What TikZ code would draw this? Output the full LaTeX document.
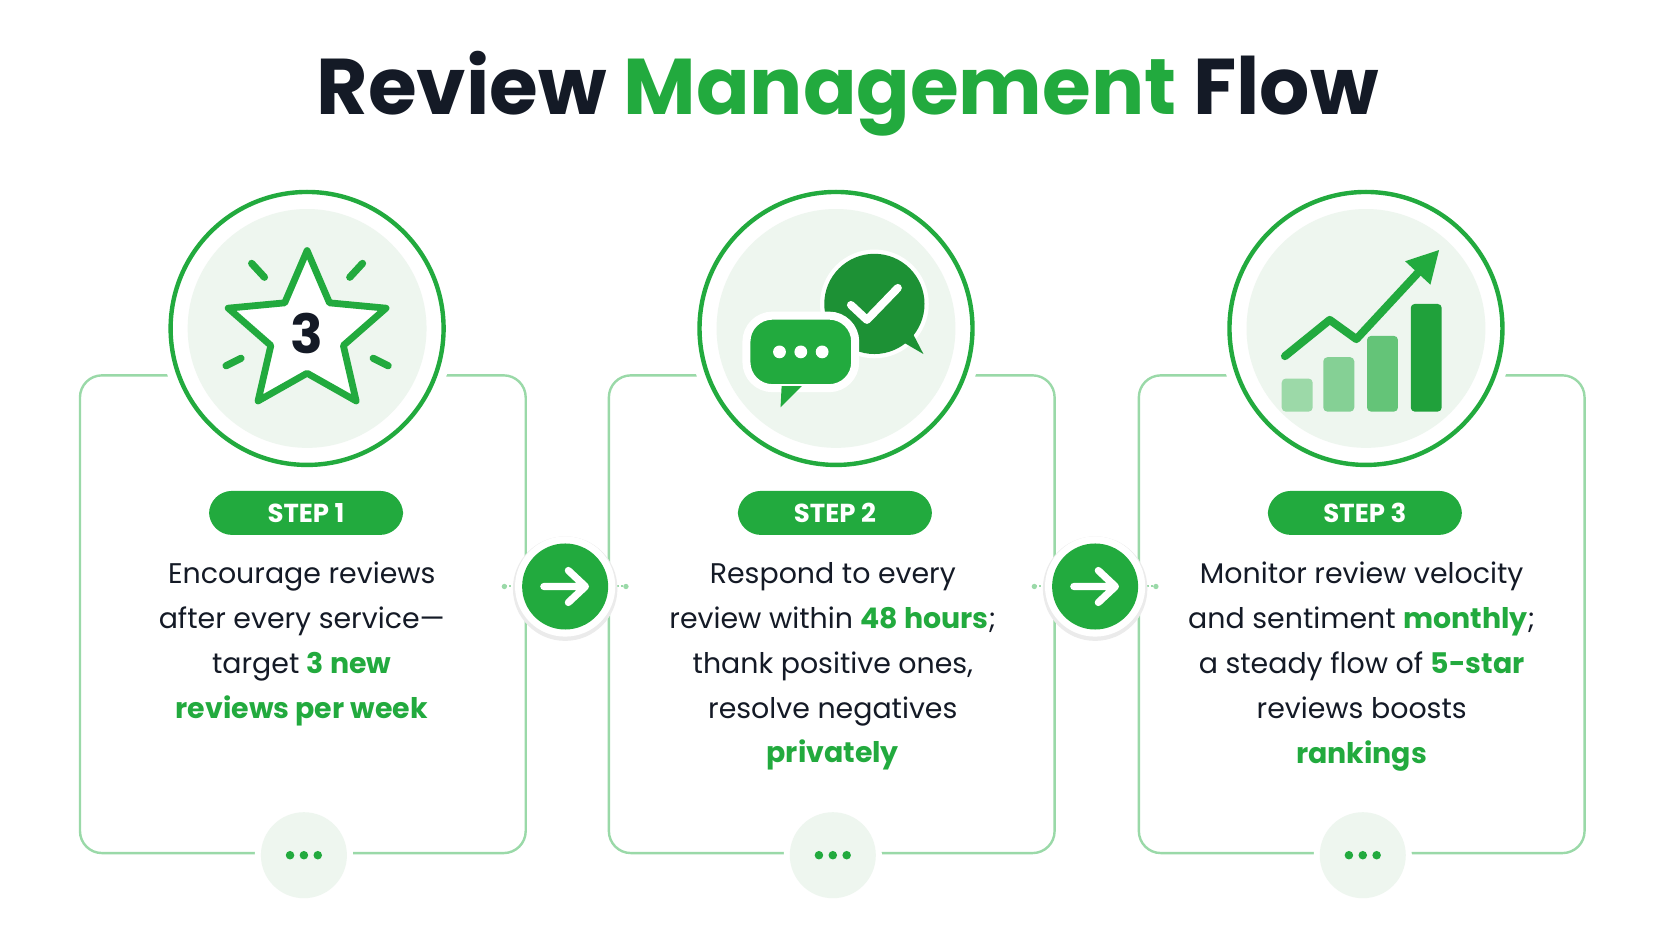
\documentclass[tikz,border=0pt]{standalone}
\usepackage{fontspec}
\setmainfont{Poppins}
\usetikzlibrary{arrows.meta,positioning}
\definecolor{leaf}{HTML}{22AA3E}
\definecolor{ink}{HTML}{141A26}
\definecolor{mist}{HTML}{EEF6EF}
\definecolor{rim}{HTML}{9AD9A8}
\tikzset{
  card/.style={draw=rim,line width=1.2pt,rounded corners=11pt},
  badge/.style={draw=leaf,line width=2.2pt,fill=white},
  pill/.style={fill=leaf,text=white,rounded corners=11.5pt,minimum width=97pt,minimum height=22pt,font=\fontsize{13}{13}\selectfont\bfseries},
  body/.style={align=center,text=ink,font=\fontsize{14.2}{22.4}\selectfont},
  go/.style={fill=leaf,circle,minimum size=43pt},
  more/.style={fill=mist,circle,minimum size=43pt}
}
\newcommand{\hi}[1]{\textcolor{leaf}{\bfseries #1}}
\begin{document}
\begin{tikzpicture}[x=0.533pt,y=-0.533pt]
\useasboundingbox[fill=white] (0,0) rectangle (1568,882.7);
% title
\node[font=\fontsize{39.5}{40}\selectfont\bfseries,text=ink] (title) at (795,88) {Review \textcolor{leaf}{Management} Flow};
% cards, badges, labels
\foreach \cx/\n in {284/1,780/2,1277/3}{
  \draw[card] (\cx-209,352) rectangle (\cx+209,800);
  \fill[white] (\cx+4,308) circle (138);
  \draw[badge] (\cx+4,308) circle (128);
  \fill[mist] (\cx+4,308) circle (112);
  \node[pill] (step\n) at (\cx+3,481) {STEP \n};
  \fill[white] (\cx+1,802) circle (46);
  \node[more] (more\n) at (\cx+1,802) {};
  \foreach \d in {-13,0,13} \fill[leaf] (\cx+1+\d,802) circle (4);
}
% step 1 icon: star
\begin{scope}[shift={(288,313)}]
  \draw[leaf,line width=3.4pt,line join=round,fill=white]
    (0,-78) -- (21,-29) -- (74,-24) -- (34,11) -- (46,63) -- (0,37) -- (-46,63) -- (-34,11) -- (-74,-24) -- (-21,-29) -- cycle;
  \foreach \p/\q in {{(-52,-66)}/{(-40,-53)},{(52,-66)}/{(40,-53)},{(-76,30)}/{(-62,23)},{(76,30)}/{(62,23)}}
    \draw[leaf,line width=3.6pt,line cap=round] \p -- \q;
  \node[font=\fontsize{27}{27}\selectfont\bfseries,text=ink] (three) at (0,0) {3};
\end{scope}
% step 2 icon: chat bubbles
\fill[white] (820,285) circle (51);
\fill[leaf!85!black] (820,285) circle (47);
\fill[leaf!85!black] (842,318) -- (866,332) -- (852,305) -- cycle;
\draw[white,line width=4pt,line cap=round,line join=round] (798,286) -- (813,300) -- (842,270);
\draw[white,line width=4pt,fill=leaf,rounded corners=13pt] (700,296) rectangle (802,364);
\fill[leaf] (733,362) -- (732,382) -- (752,362) -- cycle;
\foreach \d in {-20,0,20} \fill[white] (751+\d,330) circle (6);
% step 3 icon: chart
\fill[leaf!45,rounded corners=2pt] (1202,355) rectangle (1231,386);
\fill[leaf!55,rounded corners=2pt] (1241,335) rectangle (1270,386);
\fill[leaf!70,rounded corners=2pt] (1282,315) rectangle (1311,386);
\fill[leaf!95!black,rounded corners=2pt] (1323,285) rectangle (1352,386);
\draw[leaf,line width=4pt,line cap=round,line join=round,-{Triangle[length=16pt,width=16pt]}]
  (1205,334) -- (1247,300) -- (1272,318) -- (1350,234);
% texts
\node[body] (txt1) at (283,604) {Encourage reviews\\after every service—\\target \hi{3 new}\\\hi{reviews per week}};
\node[body] (txt2) at (781,625) {Respond to every\\review within \hi{48 hours};\\thank positive ones,\\resolve negatives\\\hi{privately}};
\node[body] (txt3) at (1277,625) {Monitor review velocity\\and sentiment \hi{monthly};\\a steady flow of \hi{5-star}\\reviews boosts\\\hi{rankings}};
% arrows between cards
\foreach \ax/\n in {530/1,1027/2}{
  \draw[rim,densely dotted,line width=1pt] (\ax-56,550) -- (\ax-45,550) (\ax+45,550) -- (\ax+56,550);
  \fill[rim] (\ax-57,550) circle (2.5) (\ax+57,550) circle (2.5);
  \fill[black!8] (\ax,552) circle (49);
  \fill[white] (\ax,550) circle (47);
  \node[go] (go\n) at (\ax,550) {};
  \draw[white,line width=3.6pt,line cap=round,line join=round] (\ax-20,550) -- (\ax+18,550) (\ax+3,535) -- (\ax+19,550) -- (\ax+3,565);
}
\end{tikzpicture}
\end{document}
